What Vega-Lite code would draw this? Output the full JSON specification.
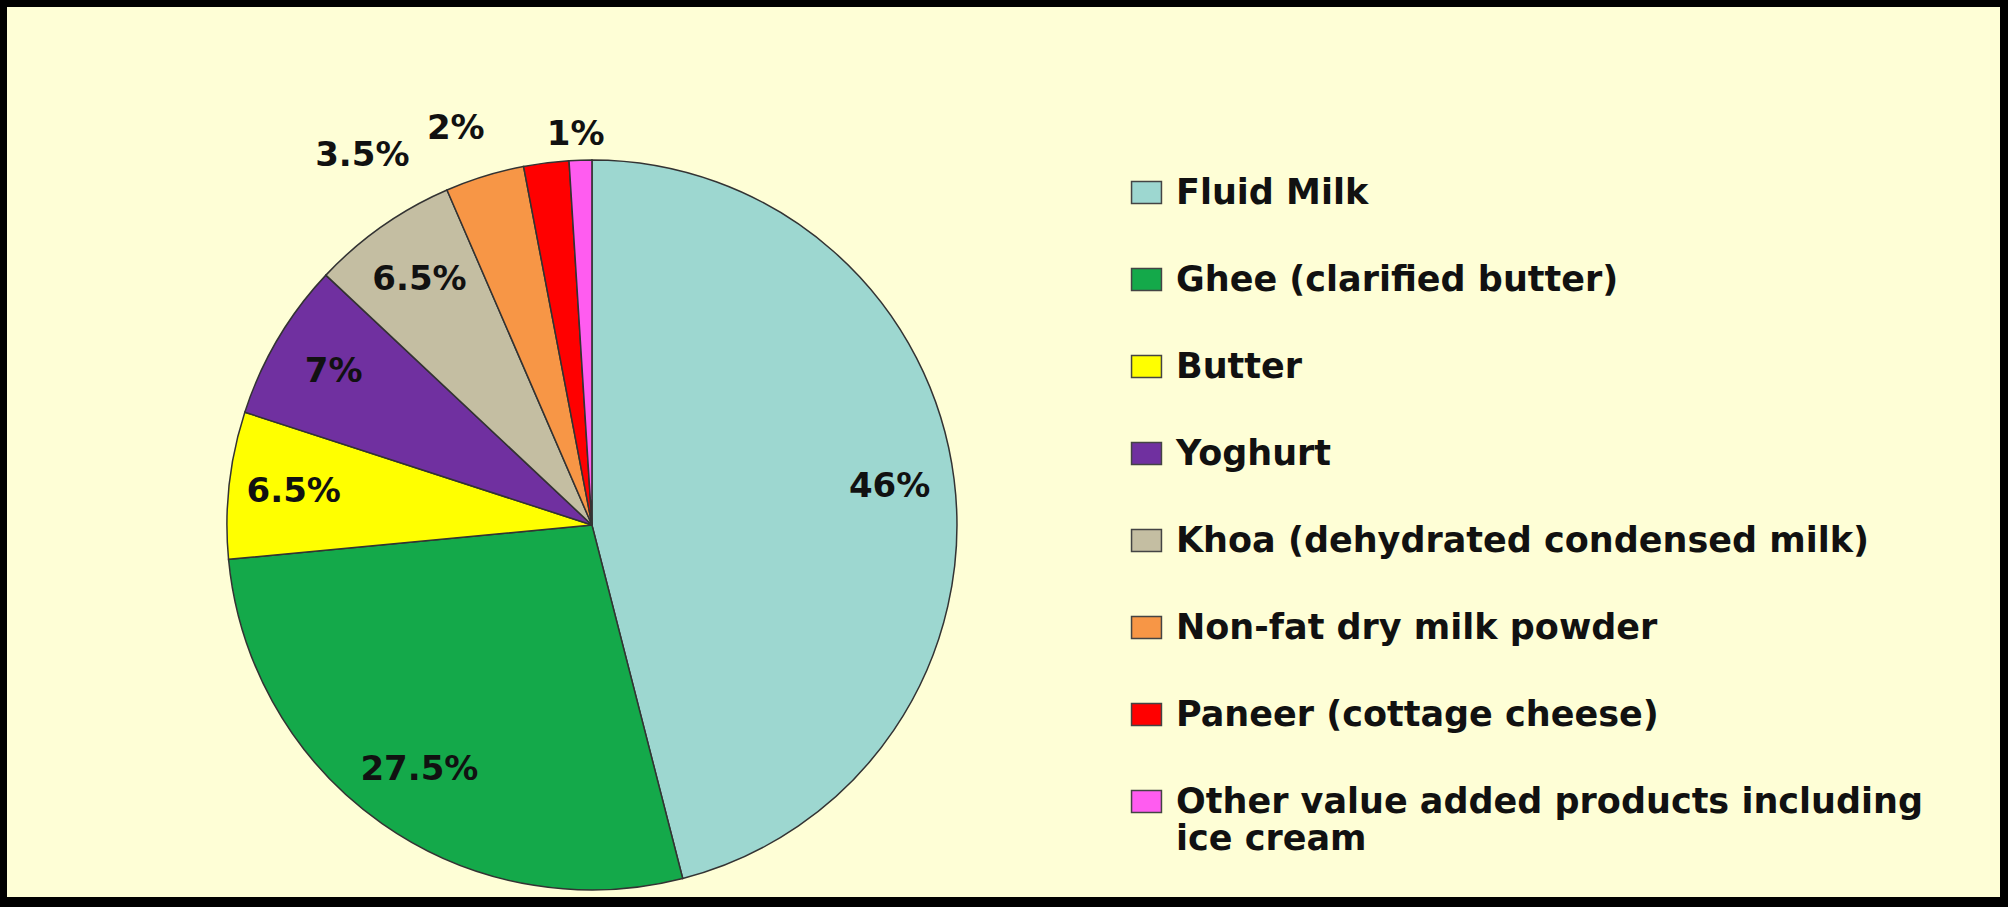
{
  "$schema": "https://vega.github.io/schema/vega-lite/v6.json",
  "autosize": {"type": "fit", "contains": "padding"},
  "width": 2008,
  "height": 907,
  "padding": {"left": 7, "top": 7, "right": 8, "bottom": 10},
  "background": "#000000",
  "view": {"fill": "#FEFED6", "stroke": null},
  "config": {
    "text": {"font": "DejaVu Sans"}
  },
  "data": {
    "values": [
      {"product": "Fluid Milk", "share": 46, "label": "46%"},
      {"product": "Ghee (clarified butter)", "share": 27.5, "label": "27.5%"},
      {"product": "Butter", "share": 6.5, "label": "6.5%"},
      {"product": "Yoghurt", "share": 7, "label": "7%"},
      {"product": "Khoa (dehydrated condensed milk)", "share": 6.5, "label": "6.5%"},
      {"product": "Non-fat dry milk powder", "share": 3.5, "label": "3.5%"},
      {"product": "Paneer (cottage cheese)", "share": 2, "label": "2%"},
      {"product": "Other value added products including ice cream", "share": 1, "label": "1%"}
    ]
  },
  "transform": [{"window": [{"op": "row_number", "as": "rank"}]}],
  "layer": [
    {
      "mark": {"type": "arc", "radius": 365, "x": {"expr": "width*0.2935"}, "y": {"expr": "height*0.582"}, "stroke": "#333333", "strokeWidth": 1.5},
      "encoding": {
        "theta": {"field": "share", "type": "quantitative", "stack": true},
        "order": {"field": "rank", "type": "quantitative"},
        "color": {
          "field": "product",
          "type": "nominal",
          "sort": null,
          "scale": {
            "domain": ["Fluid Milk", "Ghee (clarified butter)", "Butter", "Yoghurt", "Khoa (dehydrated condensed milk)", "Non-fat dry milk powder", "Paneer (cottage cheese)", "Other value added products including ice cream"],
            "range": ["#9DD7D0", "#14A94A", "#FFFF00", "#7030A0", "#C4BEA2", "#F79646", "#FF0000", "#FF5CF0"]
          },
          "legend": {
            "orient": "none",
            "legendX": 1122,
            "legendY": 168,
            "title": null,
            "padding": 0,
            "symbolType": "M-1.36,-1L1.36,-1L1.36,1L-1.36,1Z",
            "symbolSize": 484,
            "symbolStrokeColor": "#444444",
            "symbolStrokeWidth": 1.5,
            "labelFont": "DejaVu Sans",
            "labelFontWeight": "bold",
            "labelFontSize": 35,
            "labelColor": "#111111",
            "labelOffset": 12,
            "labelLimit": 1200,
            "rowPadding": 51,
            "labelExpr": "datum.label == 'Other value added products including ice cream' ? ['Other value added products including', 'ice cream'] : datum.label"
          }
        }
      }
    },
    {
      "mark": {"type": "text", "radius": 300, "x": {"expr": "width*0.2935"}, "y": {"expr": "height*0.582"}, "fontSize": 34, "fontWeight": "bold", "color": "#111111"},
      "encoding": {
        "theta": {"field": "share", "type": "quantitative", "stack": true},
        "order": {"field": "rank", "type": "quantitative"},
        "text": {"condition": {"test": "datum.share >= 5", "field": "label"}, "value": ""}
      }
    },
    {
      "mark": {"type": "text", "radius": 392, "x": {"expr": "width*0.2935"}, "y": {"expr": "height*0.582"}, "fontSize": 34, "fontWeight": "bold", "color": "#111111", "dx": -4, "dy": 2},
      "encoding": {
        "theta": {"field": "share", "type": "quantitative", "stack": true},
        "order": {"field": "rank", "type": "quantitative"},
        "text": {"condition": {"test": "datum.share == 1", "field": "label"}, "value": ""}
      }
    },
    {
      "mark": {"type": "text", "radius": 400, "x": {"expr": "width*0.2935"}, "y": {"expr": "height*0.582"}, "fontSize": 34, "fontWeight": "bold", "color": "#111111", "dx": -86, "dy": 1},
      "encoding": {
        "theta": {"field": "share", "type": "quantitative", "stack": true},
        "order": {"field": "rank", "type": "quantitative"},
        "text": {"condition": {"test": "datum.share == 2", "field": "label"}, "value": ""}
      }
    },
    {
      "mark": {"type": "text", "radius": 400, "x": {"expr": "width*0.2935"}, "y": {"expr": "height*0.582"}, "fontSize": 34, "fontWeight": "bold", "color": "#111111", "dx": -112, "dy": 13},
      "encoding": {
        "theta": {"field": "share", "type": "quantitative", "stack": true},
        "order": {"field": "rank", "type": "quantitative"},
        "text": {"condition": {"test": "datum.share == 3.5", "field": "label"}, "value": ""}
      }
    }
  ]
}
